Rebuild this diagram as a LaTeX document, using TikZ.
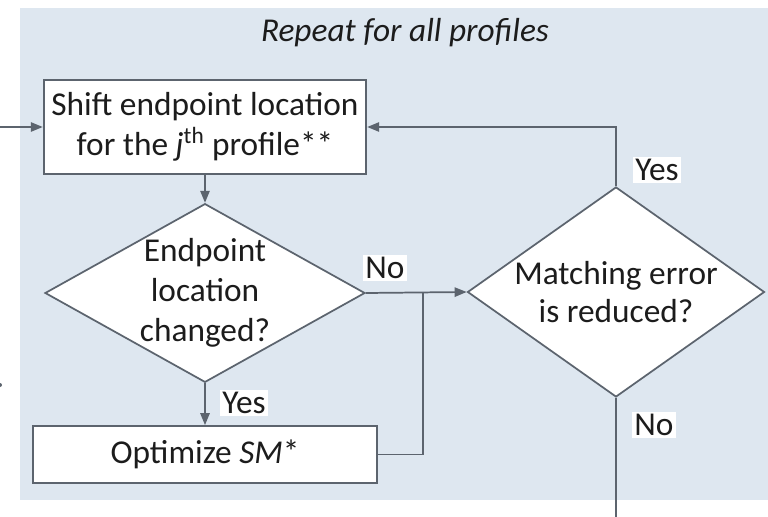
\documentclass[tikz,border=0pt]{standalone}
\usepackage{fontspec}
\setmainfont{Carlito}
\usetikzlibrary{shapes.geometric,arrows.meta}
\definecolor{panel}{HTML}{DEE7F0}
\definecolor{edge}{HTML}{5C646E}
\definecolor{ink}{HTML}{1C1C1C}
\tikzset{
  every node/.style={text=ink, font=\fontsize{25}{30}\selectfont},
  stepbox/.style={draw=edge, line width=1.3pt, fill=white, inner sep=0pt},
  decision/.style={draw=edge, line width=1.3pt, fill=white, diamond, inner sep=0pt},
  flow/.style={draw=edge, line width=1.3pt, -{Triangle[length=9pt,width=7pt]}},
  plain/.style={draw=edge, line width=1.3pt},
  tag/.style={fill=white, inner sep=1.5pt},
}
\begin{document}
\begin{tikzpicture}[x=0.75pt, y=-0.75pt]
  \useasboundingbox (0,0) rectangle (768,517);
  \fill[white] (0,0) rectangle (768,517);
  % loop panel
  \fill[panel] (20,8) rectangle (768,500);
  \node (title) at (405,33) {\itshape Repeat for all profiles};

  % steps and decisions
  \node[stepbox, minimum width=242pt, minimum height=70.5pt, align=center] (shift) at (205,127)
    {Shift endpoint location\\for the \textit{j}\textsuperscript{th} profile**};
  \node[decision, minimum width=240pt, minimum height=134pt,
        label={[align=center]center:Endpoint\\location\\changed?}] (changed) at (205,293) {};
  \node[stepbox, minimum width=258pt, minimum height=42.75pt] (opt) at (205,454.5)
    {Optimize \textit{SM}*};
  \node[decision, minimum width=222.75pt, minimum height=157.5pt,
        label={[align=center,font=\fontsize{25}{29}\selectfont]center:Matching error\\is reduced?}] (reduced) at (616,292) {};

  % free ends
  \coordinate (in) at (0,127);
  \coordinate (join) at (423,293);
  \coordinate (out) at (616,517);
  \coordinate (up) at (616,127);
  \coordinate (s1) at (0,385);

  % connectors
  \draw[flow] (in) -- (shift.west);
  \draw[flow] (shift.south) -- (changed.north);
  \draw[flow] (changed.south) -- (opt.north);
  \draw[flow] (changed.east) -- (reduced.west);
  \draw[plain] (opt.east) -| (join);
  \draw[flow] (reduced.north) -- (up) -- (shift.east);
  \draw[plain] (reduced.south) -- (out);
  \fill[edge] (s1) circle (2);

  % branch labels
  \node[tag] (no1) at (385,268) {No};
  \node[tag] (yes1) at (244,403) {Yes};
  \node[tag] (yes2) at (657,170) {Yes};
  \node[tag] (no2) at (654,425) {No};
\end{tikzpicture}
\end{document}
